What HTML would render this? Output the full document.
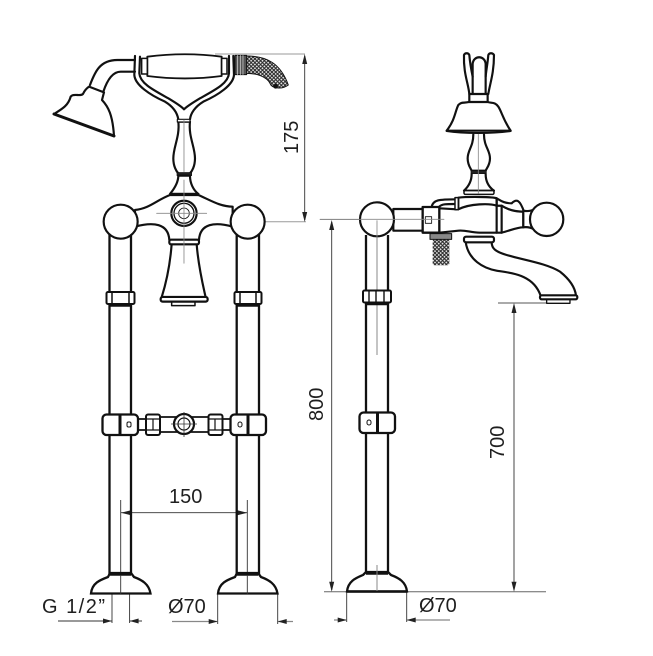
<!DOCTYPE html>
<html>
<head>
<meta charset="utf-8">
<style>
html,body{margin:0;padding:0;background:#fff;}
svg{display:block;}
text{font-family:"Liberation Sans",sans-serif;font-size:20px;fill:#1f1f1f;}
</style>
</head>
<body>
<svg width="653" height="656" viewBox="0 0 653 656" xmlns="http://www.w3.org/2000/svg">
<defs>
<pattern id="dots" width="8" height="8" patternUnits="userSpaceOnUse" patternTransform="rotate(45)">
<rect width="8" height="8" fill="#2c2c2c"/>
<circle cx="4" cy="4" r="2.800" fill="#ececec"/>
</pattern>
</defs>

<!-- Dimension lines -->
<g fill="none" stroke="#9a9a9a" stroke-width="1">
<path d="M215,54H305M264,221.7H306M320,219.5H445"/>
<path d="M324,591.7H546" stroke="#666"/>
<path d="M498,303H548" stroke="#555"/>
<path d="M377,220V355M144,213H207M184,120V264" stroke="#888"/>
<path d="M377,565V591" stroke="#888"/>
</g>
<g fill="none" stroke="#333" stroke-width="0.9">
<path d="M304.7,56V220M331.7,222V590M514,305V590"/>
<path d="M121,512.7H247"/>
<path d="M120.7,500V594M247.3,500V594"/>
<path d="M112,594V623M129.6,594V623M58,621H112M129.6,621H142"/>
<path d="M217.7,594V624M277.7,594V624M346.7,592V622M406.7,592V622"/>
</g>
<path d="M172,621.5H217M278,621.5H293M334,620H346M407,620H450" fill="none" stroke="#888" stroke-width="1.2"/>
<g fill="#222">
<path d="M304.7,54l-2.5,10h5zM304.7,222l-2.5,-10h5z"/>
<path d="M331.7,220l-2.5,10h5zM331.7,591.7l-2.5,-10h5z"/>
<path d="M514,303l-2.5,10h5zM514,591.7l-2.5,-10h5z"/>
<path d="M121,512.7l10,-2.5v5zM247.3,512.7l-10,-2.5v5z"/>
<path d="M112,621l-9,-2.5v5zM129.6,621l9,-2.5v5z"/>
<path d="M217.7,621.5l-9,-2.5v5zM277.7,621.5l9,-2.5v5z"/>
<path d="M346.7,620l-9,-2.5v5zM406.7,620l9,-2.5v5z"/>
</g>

<!-- Left elevation: pipes & lower parts (absolute coords) -->
<g fill="#fff" stroke="#111" stroke-width="2.300">
<path d="M109.5,230V575M131,230V575M236.7,230V575M259,230V575" fill="none"/>
<path d="M91,593.5C92,583 100,580 108,577L110,573H131L134,577C142,580 149,584 150.5,593.5Z"/>
<path d="M218,593.5C219,583 227,580 235,577L237,573H258L261,577C269,580 276,584 277.5,593.5Z"/>
<path d="M110,574H131M237,574H258" stroke-width="3.5"/>
<path d="M120.7,575V594M247.3,575V594" fill="none" stroke="#333" stroke-width="0.9"/>
<!-- nuts -->
<rect x="106.5" y="292" width="28" height="12" rx="1.5" stroke-width="2"/>
<rect x="234.5" y="292" width="27" height="12" rx="1.5" stroke-width="2"/>
<path d="M112,292V304M129,292V304M240,292V304M256,292V304" fill="none" stroke-width="1.5"/>
<path d="M109.500,305.500H131M236.700,305.500H259" fill="none" stroke-width="2.500"/>
<!-- clamps -->
<rect x="102.500" y="414.500" width="35.500" height="20.500" rx="4"/>
<rect x="230.500" y="414.500" width="35.500" height="20.500" rx="4"/>
<path d="M120,414.500V435M248,414.500V435" fill="none" stroke-width="3"/>
<rect x="127" y="422" width="4" height="5" rx="1.500" stroke-width="1"/>
<rect x="238" y="422" width="4" height="5" rx="2" stroke-width="1"/>
<!-- mid connector -->
<path d="M138,419H145M138,430H145M223,419H230M223,430H230M160,417H208M160,432H208" fill="none" stroke-width="1.800"/>
<rect x="146" y="414.500" width="14" height="20.500" rx="2" stroke-width="2"/>
<rect x="208.500" y="414.500" width="14" height="20.500" rx="2" stroke-width="2"/>
<path d="M146,419H160M146,430H160M208,419H222M208,430H222M153,419V430M215,419V430" fill="none" stroke-width="1.200"/>
<circle cx="184" cy="424" r="10" stroke-width="2.200"/>
<circle cx="184" cy="424" r="6" stroke-width="1.200"/>
<path d="M184,412V437M171,424H197" fill="none" stroke="#333" stroke-width="0.8"/>
</g>

<!-- Left elevation top (zoom 1 coordinates) -->
<g transform="translate(40,40) scale(0.3333)" fill="#fff" stroke="#111" stroke-width="6.500" stroke-linejoin="round" stroke-linecap="round">
<!-- arm -->
<path d="M150,135C165,95 180,60 232,60L285,60M190,155C200,125 215,95 242,95L285,95" fill="none"/>
<!-- shower head -->
<path d="M42,222C70,205 85,195 92,170C100,158 125,172 130,160C135,150 140,145 147,140L192,157L186,180C205,200 218,225 222,288Z"/>
<path d="M42,222L222,288" fill="none" stroke-width="9"/>
<!-- cradle -->
<path d="M285,48L283,105C285,135 330,165 375,185C400,200 412,220 415,238M580,48L582,105C580,135 535,165 490,185C465,200 452,220 450,238" fill="none"/>
<path d="M300,50L298,100C300,130 340,150 385,175C410,190 425,200 432,208C440,200 455,190 480,175C525,150 565,130 567,100L567,48" fill="none"/>
<!-- handle -->
<path d="M322,50C400,40 470,40 545,50L545,108C470,118 400,118 322,108Z" stroke-width="5.500"/>
<path d="M305,55H322V102H305ZM545,55H561V102H545Z" stroke-width="4.500"/>
<!-- grip -->
<path d="M620,48C680,48 722,70 745,135C725,150 695,145 690,130C680,110 650,100 620,100Z" fill="url(#dots)" stroke-width="3"/>
<rect x="585" y="46" width="35" height="58" fill="#555" stroke-width="3"/>
<path d="M593,46V104M601,46V104M609,46V104" stroke="#ddd" stroke-width="2" fill="none"/>
<circle cx="707" cy="139" r="7" fill="#111" stroke="none"/>
<!-- stem -->
<path d="M415,245C420,290 400,320 400,355C400,380 410,395 415,400L450,400C455,395 465,380 465,355C465,320 445,290 450,245Z"/>
<rect x="412" y="238" width="38" height="8" stroke-width="3.500"/>
<rect x="411" y="398" width="44" height="9" fill="#222" stroke-width="2"/>
<path d="M415,407C415,430 400,450 390,462L475,462C460,450 450,430 450,407Z"/>
<!-- body -->
<path d="M285,510C330,505 350,480 390,465L475,465C510,480 540,500 578,500L578,560C525,545 480,550 477,600L388,600C385,550 340,545 285,560Z"/>
<path d="M392,462H475" fill="none" stroke-width="7"/>
<circle cx="242" cy="545" r="51"/>
<circle cx="623" cy="545" r="51"/>
<!-- cup -->
<path d="M395,612C390,680 375,740 365,772L497,772C490,740 475,680 470,612Z"/>
<rect x="388" y="599" width="89" height="14" rx="5"/>
<rect x="395" y="785" width="70" height="12" stroke-width="4.500"/>
<rect x="362" y="771" width="141" height="14" rx="6"/>
<circle cx="432" cy="520" r="38"/>
<circle cx="432" cy="520" r="30" stroke-width="4"/>
<circle cx="432" cy="520" r="16" stroke-width="2.500"/>
<path d="M350,520H500M432,420V670M432,240V395" fill="none" stroke="#888" stroke-width="2.500"/>
</g>

<!-- Right elevation: pipe (absolute) -->
<g fill="#fff" stroke="#111" stroke-width="2.300">
<path d="M366,235V574M388,235V574" fill="none"/>
<path d="M347,591.500C348,581 356,578 363,575L366,572H388L391,575C399,578 406,582 407,591.500Z" />
<path d="M366,573H388" fill="none" stroke-width="3.500"/>
<path d="M347,591.500H407" fill="none" stroke-width="2.400"/>
<path d="M377,565V591" fill="none" stroke="#888" stroke-width="1"/>
<rect x="363" y="290.500" width="28" height="12" rx="1.500" stroke-width="2"/>
<path d="M369,290.500V302.500M376,290.500V302.500M384,290.500V302.500" fill="none" stroke-width="1.400"/>
<path d="M366,304H388" fill="none" stroke-width="2.500"/>
<rect x="359.500" y="412.500" width="35.500" height="20.500" rx="4"/>
<path d="M377.500,412.500V433" fill="none" stroke-width="3"/>
<rect x="367" y="420" width="4" height="5" rx="2" stroke-width="1"/>
</g>

<!-- Right elevation top (zoom 2 coordinates) -->
<g transform="translate(320,40) scale(0.3333)" fill="#fff" stroke="#111" stroke-width="6.500" stroke-linejoin="round" stroke-linecap="round">
<!-- fork -->
<path d="M448,162C445,130 430,100 432,45C435,38 445,38 448,45C450,70 455,95 458,110M505,162C510,130 522,100 522,45C518,38 508,38 505,45C503,70 498,95 497,110" fill="none"/>
<path d="M458,162L458,72C460,45 495,45 497,72L497,162" fill="none"/>
<rect x="448" y="162" width="55" height="26"/>
<!-- bell -->
<path d="M448,186C430,190 425,185 415,195C405,215 405,240 380,272L572,272C550,240 545,215 535,200C525,185 515,190 503,186Z"/>
<path d="M380,273C430,281 520,281 572,273" fill="none" stroke-width="6"/>
<!-- stem -->
<path d="M460,283C460,320 443,330 443,355C443,375 452,385 455,392L497,392C500,385 510,375 510,355C510,330 492,320 492,283" />
<rect x="453" y="392" width="46" height="9" fill="#222" stroke-width="2"/>
<path d="M455,402C455,425 445,440 432,452L522,452C505,440 497,425 497,402" />
<rect x="432" y="452" width="90" height="11" rx="4" stroke-width="4.500"/>
<path d="M475,283V460" fill="none" stroke="#888" stroke-width="2.500"/>
<!-- spout -->
<path d="M437,606C445,660 490,685 530,692C580,700 640,705 662,767L768,767C765,740 745,715 720,695C680,670 610,660 560,645C525,635 515,625 515,606Z"/>
<rect x="680" y="778" width="70" height="12" stroke-width="4"/>
<rect x="660" y="766" width="112" height="12" rx="5"/>
<rect x="432" y="590" width="90" height="17" rx="6"/>
<!-- pipe from ball -->
<path d="M220,507H310V572H220Z"/>
<!-- upper elbow -->
<path d="M335,500C340,480 355,478 410,478M358,500C365,492 380,492 405,492" fill="none"/>
<!-- body -->
<path d="M358,505L410,508C440,500 450,490 480,490C510,490 525,495 530,497L545,497C565,510 590,515 610,515L610,562C590,562 570,572 545,578L530,578C510,578 500,578 480,578C450,578 440,570 415,572L358,578Z"/>
<path d="M415,473C440,470 520,470 530,475L530,497C510,490 450,490 415,508Z"/>
<path d="M530,475C540,480 550,490 575,490C590,475 600,480 612,515C590,515 565,510 545,497L530,497Z"/>
<path d="M530,475V578M545,497V578" fill="none"/>
<path d="M610,512C625,515 635,512 642,508L642,568C635,564 625,560 610,562Z"/>
<circle cx="680" cy="538" r="50"/>
<!-- hose -->
<rect x="338" y="598" width="50" height="78" rx="6" fill="url(#dots)" stroke="none"/>
<rect x="330" y="581" width="65" height="17" fill="#888" stroke-width="3"/>
<!-- bracket -->
<rect x="308" y="501" width="50" height="77" stroke-width="7"/>
<rect x="316" y="530" width="19" height="20" stroke-width="2.500"/>
<rect x="405" y="473" width="10" height="36" stroke-width="4.500"/>
<circle cx="171" cy="538" r="51"/>
<path d="M171,542V620M0,538H372" fill="none" stroke="#888" stroke-width="2.500"/>
</g>

<!-- Labels -->
<text x="169" y="503">150</text>
<text x="42" y="613" textLength="63" lengthAdjust="spacing">G 1/2&#8221;</text>
<text x="168" y="613">&#216;70</text>
<text x="419" y="612">&#216;70</text>
<text transform="translate(298,154) rotate(-90)">175</text>
<text transform="translate(323,421) rotate(-90)">800</text>
<text transform="translate(504,459) rotate(-90)">700</text>
</svg>
</body>
</html>
